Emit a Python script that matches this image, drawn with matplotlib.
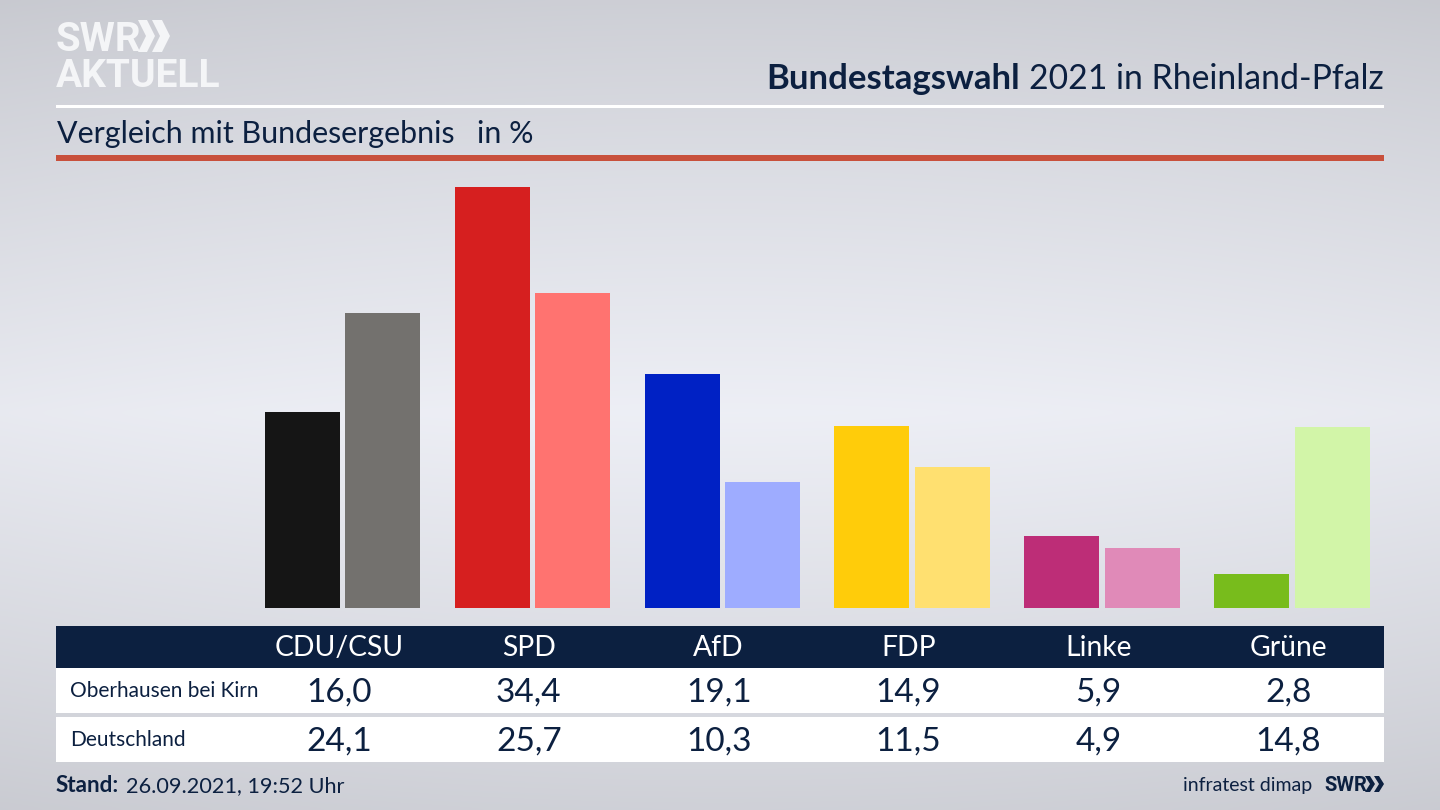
import numpy as np
import matplotlib
matplotlib.use("Agg")
import matplotlib.pyplot as plt
from matplotlib.patches import Rectangle, Polygon

FONT = ["Lato", "DejaVu Sans"]
plt.rcParams["font.family"] = FONT

parties = ["CDU/CSU", "SPD", "AfD", "FDP", "Linke", "Grüne"]
regional = [16.0, 34.4, 19.1, 14.9, 5.9, 2.8]
national = [24.1, 25.7, 10.3, 11.5, 4.9, 14.8]
regional_labels = ["16,0", "34,4", "19,1", "14,9", "5,9", "2,8"]
national_labels = ["24,1", "25,7", "10,3", "11,5", "4,9", "14,8"]
regional_colors = ["#151515", "#d61f1f", "#0021c4", "#ffcc0a", "#bd2d77", "#78bc1c"]
national_colors = ["#73716e", "#ff7370", "#9eacff", "#ffe070", "#e08ab8", "#d2f5a8"]
row_names = ["Oberhausen bei Kirn", "Deutschland"]

NAVY = "#0c2040"
W, H = 1440, 810
fig = plt.figure(figsize=(14.4, 8.1), dpi=100)

# background gradient
bg = fig.add_axes([0, 0, 1, 1], zorder=0)
yy, xx = np.mgrid[0:1:162j, 0:1:288j]
t = np.clip(1 - np.abs(yy - 0.51) / 0.51, 0, 1)
side = np.abs(xx - 0.5) * 2
v = 0.805 + 0.125 * t ** 0.9 - 0.02 * side ** 2
rgb = np.dstack([v, v + 0.006, v + 0.032])
bg.imshow(np.clip(rgb, 0, 1), extent=(0, W, H, 0), aspect="auto", interpolation="bicubic")
bg.axis("off")

# bars, on a value axis
PX_PER_UNIT = 12.24
GROUP = 189.85
X0 = 342.6
BASE = 608
ax = fig.add_axes([0, (H - BASE) / H, 1, (BASE - 160) / H], zorder=1)
ax.patch.set_alpha(0)
ax.set_xlim((0 - X0) / GROUP, (W - X0) / GROUP)
ax.set_ylim(0, (BASE - 160) / PX_PER_UNIT)
ax.axis("off")
x = np.arange(len(parties))
off = 40.2 / GROUP
bw = 75 / GROUP
ax.bar(x - off, regional, width=bw, color=regional_colors)
ax.bar(x + off, national, width=bw, color=national_colors)

# overlay in pixels
ov = fig.add_axes([0, 0, 1, 1], zorder=2)
ov.patch.set_alpha(0)
ov.set_xlim(0, W)
ov.set_ylim(H, 0)
ov.axis("off")

def rect(x0, y0, x1, y1, c):
    ov.add_patch(Rectangle((x0, y0), x1 - x0, y1 - y0, fc=c, ec="none"))

def chev(x0, y0, h, w, t, c):
    ov.add_patch(Polygon([(x0, y0), (x0 + t, y0), (x0 + t + w, y0 + h / 2), (x0 + t, y0 + h),
                          (x0, y0 + h), (x0 + w, y0 + h / 2)], closed=True, fc=c, ec="none"))

# header
rect(56, 104.5, 1384, 107.5, "white")
rect(56, 155, 1384, 160.5, "#c8503c")
ov.text(57, 143, "Vergleich mit Bundesergebnis", fontsize=21.9, color=NAVY, va="baseline", ha="left")
ov.text(477, 143, "in %", fontsize=21.9, color=NAVY, va="baseline", ha="left")
ov.text(1384, 89, "2021 in Rheinland-Pfalz", fontsize=24.3, color=NAVY, va="baseline", ha="right")
ov.text(1020, 89, "Bundestagswahl", fontsize=25, fontweight="bold", color=NAVY, va="baseline", ha="right")

# logo
LOGO = "#f4f5f7"
ov.text(56, 51, "SWR", fontsize=29, fontweight="bold", family=["Roboto"], color=LOGO, va="baseline", ha="left")
chev(138, 20, 32, 8, 9, LOGO)
chev(152, 20, 32, 8, 10, LOGO)
ov.text(56, 87, "AKTUELL", fontsize=28, fontweight="bold", family=["Roboto"], color=LOGO, va="baseline", ha="left")

# table
rect(56, 626, 1384, 668, NAVY)
rect(56, 668, 1384, 713, "white")
rect(56, 717, 1384, 762, "white")
for i, p in enumerate(parties):
    cx = 339 + i * GROUP
    ov.text(cx, 656, p, fontsize=20.3, color="white", ha="center", va="baseline")
    ov.text(cx, 702, regional_labels[i], fontsize=24, color=NAVY, ha="center", va="baseline")
    ov.text(cx, 751, national_labels[i], fontsize=24, color=NAVY, ha="center", va="baseline")
ov.text(70, 697, row_names[0], fontsize=15, color=NAVY, ha="left", va="baseline")
ov.text(70, 746, row_names[1], fontsize=15, color=NAVY, ha="left", va="baseline")

# footer
ov.text(56, 792, "Stand:", fontsize=16.2, fontweight="bold", color=NAVY, ha="left", va="baseline")
ov.text(126, 792, "26.09.2021, 19:52 Uhr", fontsize=15.6, color=NAVY, ha="left", va="baseline")
ov.text(1312, 791, "infratest dimap", fontsize=14, color=NAVY, ha="right", va="baseline")
ov.text(1324, 791, "SWR", fontsize=14.5, fontweight="bold", family=["Roboto"], color=NAVY, ha="left", va="baseline")
chev(1365, 776, 16, 5, 5, NAVY)
chev(1374, 776, 16, 5, 5, NAVY)

fig.savefig("out.png", dpi=100)
